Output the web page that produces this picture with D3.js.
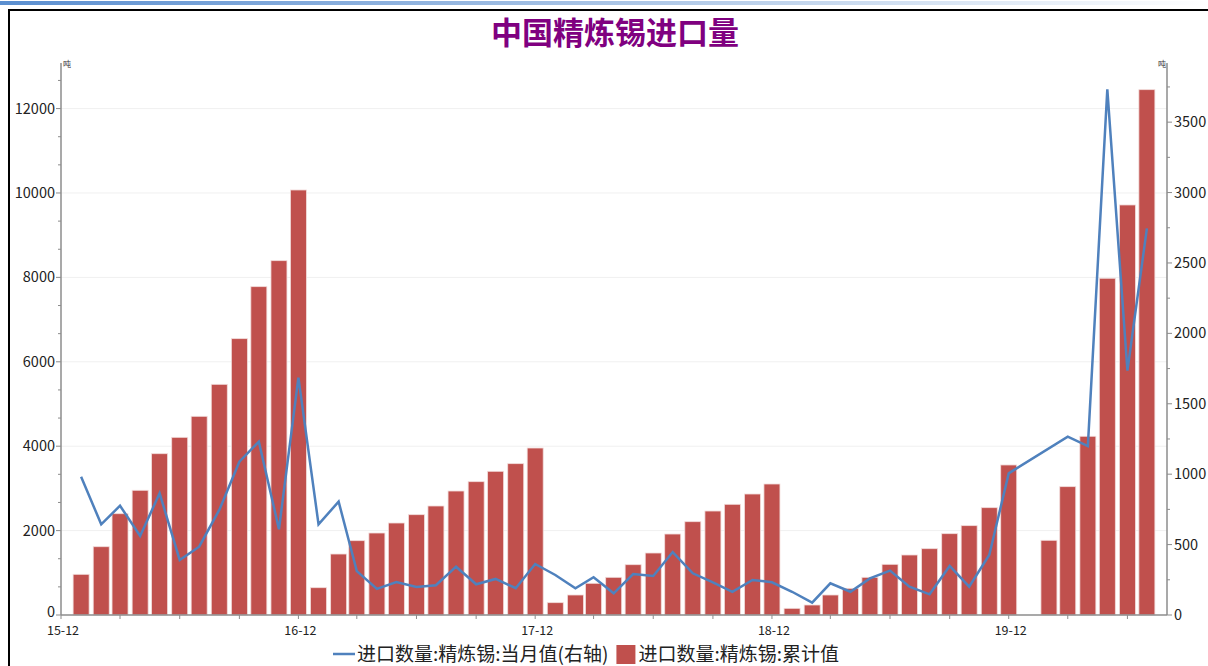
<!DOCTYPE html>
<html>
<head>
<meta charset="utf-8">
<script src="https://cdn.jsdelivr.net/npm/d3@7"></script>
<style>
  body { margin: 0; background: #fff; }
  text { font-family: "Noto Sans CJK SC", "Noto Sans", sans-serif; }
</style>
</head>
<body>
<div id="chart-area"></div>
<script>
// months of the series (2020-01 not reported, Jan+Feb combined)
const months = [
  "2016-01","2016-02","2016-03","2016-04","2016-05","2016-06","2016-07","2016-08","2016-09","2016-10","2016-11","2016-12",
  "2017-01","2017-02","2017-03","2017-04","2017-05","2017-06","2017-07","2017-08","2017-09","2017-10","2017-11","2017-12",
  "2018-01","2018-02","2018-03","2018-04","2018-05","2018-06","2018-07","2018-08","2018-09","2018-10","2018-11","2018-12",
  "2019-01","2019-02","2019-03","2019-04","2019-05","2019-06","2019-07","2019-08","2019-09","2019-10","2019-11","2019-12",
  "2020-02","2020-03","2020-04","2020-05","2020-06","2020-07"
]
// cumulative (bars, left axis)
const cumulative = [
  964,1618,2400,2955,3822,4210,4708,5466,6548,7780,8396,10071,
  647,1445,1761,1943,2180,2377,2583,2938,3159,3405,3586,3957,
  292,474,751,893,1192,1469,1919,2211,2464,2623,2867,3104,
  158,237,474,632,893,1201,1422,1571,1927,2117,2543,3555,
  1770,3041,4235,7979,9716,12448
]
// monthly (line, right axis)
const monthly = [
  982,644,776,561,864,391,485,746,1089,1231,609,1686,
  644,805,312,185,234,199,211,343,218,256,190,362,
  284,190,268,154,291,277,447,296,232,165,249,232,
  165,88,225,165,260,315,201,147,348,201,426,1006,
  null,1266,1200,3733,1735,2746
]
const leftTicks = [0,2000,4000,6000,8000,10000,12000]
const rightTicks = [0,500,1000,1500,2000,2500,3000,3500]
const seriesNames = ["进口数量:精炼锡:当月值(右轴)", "进口数量:精炼锡:累计值"]

const W = 1208, H = 666
const parse = d3.timeParse("%Y-%m")
const fmt = d3.timeFormat("%y-%m")

const svg = d3.select("#chart-area").append("svg")
	.attr("width", W)
	.attr("height", H)

// top decorative gradient strip + frame
const grad = svg.append("defs").append("linearGradient").attr("id", "topbar")
grad.append("stop").attr("offset", "0%").attr("stop-color", "#5b8fd0")
grad.append("stop").attr("offset", "60%").attr("stop-color", "#b9cfea")
grad.append("stop").attr("offset", "100%").attr("stop-color", "#ffffff")
svg.append("rect").attr("x", 0).attr("y", 1).attr("width", W).attr("height", 4).attr("fill", "url(#topbar)")
svg.append("path").attr("d", `M9,${H} V10 H${W}`).attr("fill", "none").attr("stroke", "#000").attr("stroke-width", 2)

const x0 = 61, x1 = 1167, yBase = 615, yTop = 63

const x = d3.scaleTime()
	.domain([parse("2015-12"), parse("2020-08")])
	.range([x0, x1])
const yL = d3.scaleLinear().domain([0, 13080]).range([yBase, yTop])
const yR = d3.scaleLinear().domain([0, 3920]).range([yBase, yTop])

// grid lines
svg.append("g").selectAll("line")
	.data(leftTicks.slice(1))
	.enter().append("line")
	.attr("x1", x0).attr("x2", x1)
	.attr("y1", d => yL(d)).attr("y2", d => yL(d))
	.attr("stroke", "#f0f0f0")

// bars
const bw = 16
svg.append("g").selectAll("rect")
	.data(months)
	.enter().append("rect")
	.attr("x", d => x(parse(d)) - bw / 2)
	.attr("y", (d, i) => yL(cumulative[i]))
	.attr("width", bw)
	.attr("height", (d, i) => yBase - yL(cumulative[i]))
	.attr("fill", "#c0504d")
	.attr("stroke", "#f2dcdb")
	.attr("stroke-width", 0.8)

// line (skip missing month)
const pts = months.map((m, i) => [parse(m), monthly[i]]).filter(p => p[1] != null)
svg.append("path")
	.datum(pts)
	.attr("fill", "none")
	.attr("stroke", "#4f81bd")
	.attr("stroke-width", 2.5)
	.attr("d", d3.line().x(p => x(p[0])).y(p => yR(p[1])))

// axes
const axisColor = "#8c8c8c"
const leftAxis = svg.append("g").attr("transform", `translate(${x0},0)`)
leftAxis.append("line").attr("y1", yTop).attr("y2", yBase).attr("stroke", axisColor).attr("stroke-width", 1.5)
leftAxis.selectAll(".minor")
	.data(d3.range(0, 13000, 2000 / 3).filter((d, i) => i % 3 != 0))
	.enter().append("line")
	.attr("x1", -3).attr("x2", 0)
	.attr("y1", d => yL(d)).attr("y2", d => yL(d))
	.attr("stroke", axisColor)
leftAxis.selectAll(".major")
	.data(leftTicks)
	.enter().append("line")
	.attr("x1", -5).attr("x2", 0)
	.attr("y1", d => yL(d)).attr("y2", d => yL(d))
	.attr("stroke", axisColor)
leftAxis.selectAll("text")
	.data(leftTicks)
	.enter().append("text")
	.attr("x", -6).attr("y", d => yL(d) + (d == 0 ? 2 : 5))
	.attr("text-anchor", "end")
	.attr("font-size", 14.5)
	.attr("fill", "#222")
	.text(d => d)
leftAxis.append("text").attr("x", 2).attr("y", yTop + 4).attr("font-size", 8).attr("fill", "#333").text("吨")

const rightAxis = svg.append("g").attr("transform", `translate(${x1},0)`)
rightAxis.append("line").attr("y1", yTop).attr("y2", yBase).attr("stroke", axisColor).attr("stroke-width", 1.5)
rightAxis.selectAll(".minor")
	.data(d3.range(250, 3900, 500))
	.enter().append("line")
	.attr("x1", 0).attr("x2", 3)
	.attr("y1", d => yR(d)).attr("y2", d => yR(d))
	.attr("stroke", axisColor)
rightAxis.selectAll(".major")
	.data(rightTicks)
	.enter().append("line")
	.attr("x1", 0).attr("x2", 5)
	.attr("y1", d => yR(d)).attr("y2", d => yR(d))
	.attr("stroke", axisColor)
rightAxis.selectAll("text")
	.data(rightTicks)
	.enter().append("text")
	.attr("x", 7).attr("y", d => yR(d) + 5)
	.attr("font-size", 14.5)
	.attr("fill", "#222")
	.text(d => d)
rightAxis.append("text").attr("x", -9).attr("y", yTop + 4).attr("font-size", 8).attr("fill", "#333").text("吨")

const bottomAxis = svg.append("g").attr("transform", `translate(0,${yBase})`)
bottomAxis.append("line").attr("x1", x0).attr("x2", x1).attr("stroke", axisColor).attr("stroke-width", 1.5)
const xTicks = d3.timeMonth.range(parse("2015-12"), parse("2020-08"), 3)
bottomAxis.selectAll(".tick")
	.data(xTicks)
	.enter().append("line")
	.attr("x1", d => x(d)).attr("x2", d => x(d))
	.attr("y1", 0).attr("y2", 4)
	.attr("stroke", axisColor)
bottomAxis.selectAll("text")
	.data(xTicks.filter(d => d.getMonth() == 11))
	.enter().append("text")
	.attr("x", d => x(d) + 2).attr("y", 20)
	.attr("text-anchor", "middle")
	.attr("font-size", 12.5)
	.attr("fill", "#222")
	.text(d => fmt(d))

// title
svg.append("text")
	.attr("x", 615).attr("y", 44)
	.attr("text-anchor", "middle")
	.attr("font-size", 31)
	.attr("font-weight", "bold")
	.attr("fill", "#800080")
	.text("中国精炼锡进口量")

// legend
const lg = svg.append("g").attr("transform", "translate(333,654)")
lg.append("line").attr("x1", 0).attr("x2", 22).attr("y1", 0).attr("y2", 0).attr("stroke", "#4f81bd").attr("stroke-width", 2.5)
const t1 = lg.append("text").attr("x", 24).attr("y", 7).attr("font-size", 19).attr("fill", "#222").text(seriesNames[0])
const sx = 24 + t1.node().getComputedTextLength() + 8
lg.append("rect").attr("x", sx).attr("y", -9).attr("width", 19).attr("height", 19).attr("fill", "#c0504d")
lg.append("text").attr("x", sx + 22).attr("y", 7).attr("font-size", 19).attr("fill", "#222").text(seriesNames[1])
</script>
</body>
</html>
